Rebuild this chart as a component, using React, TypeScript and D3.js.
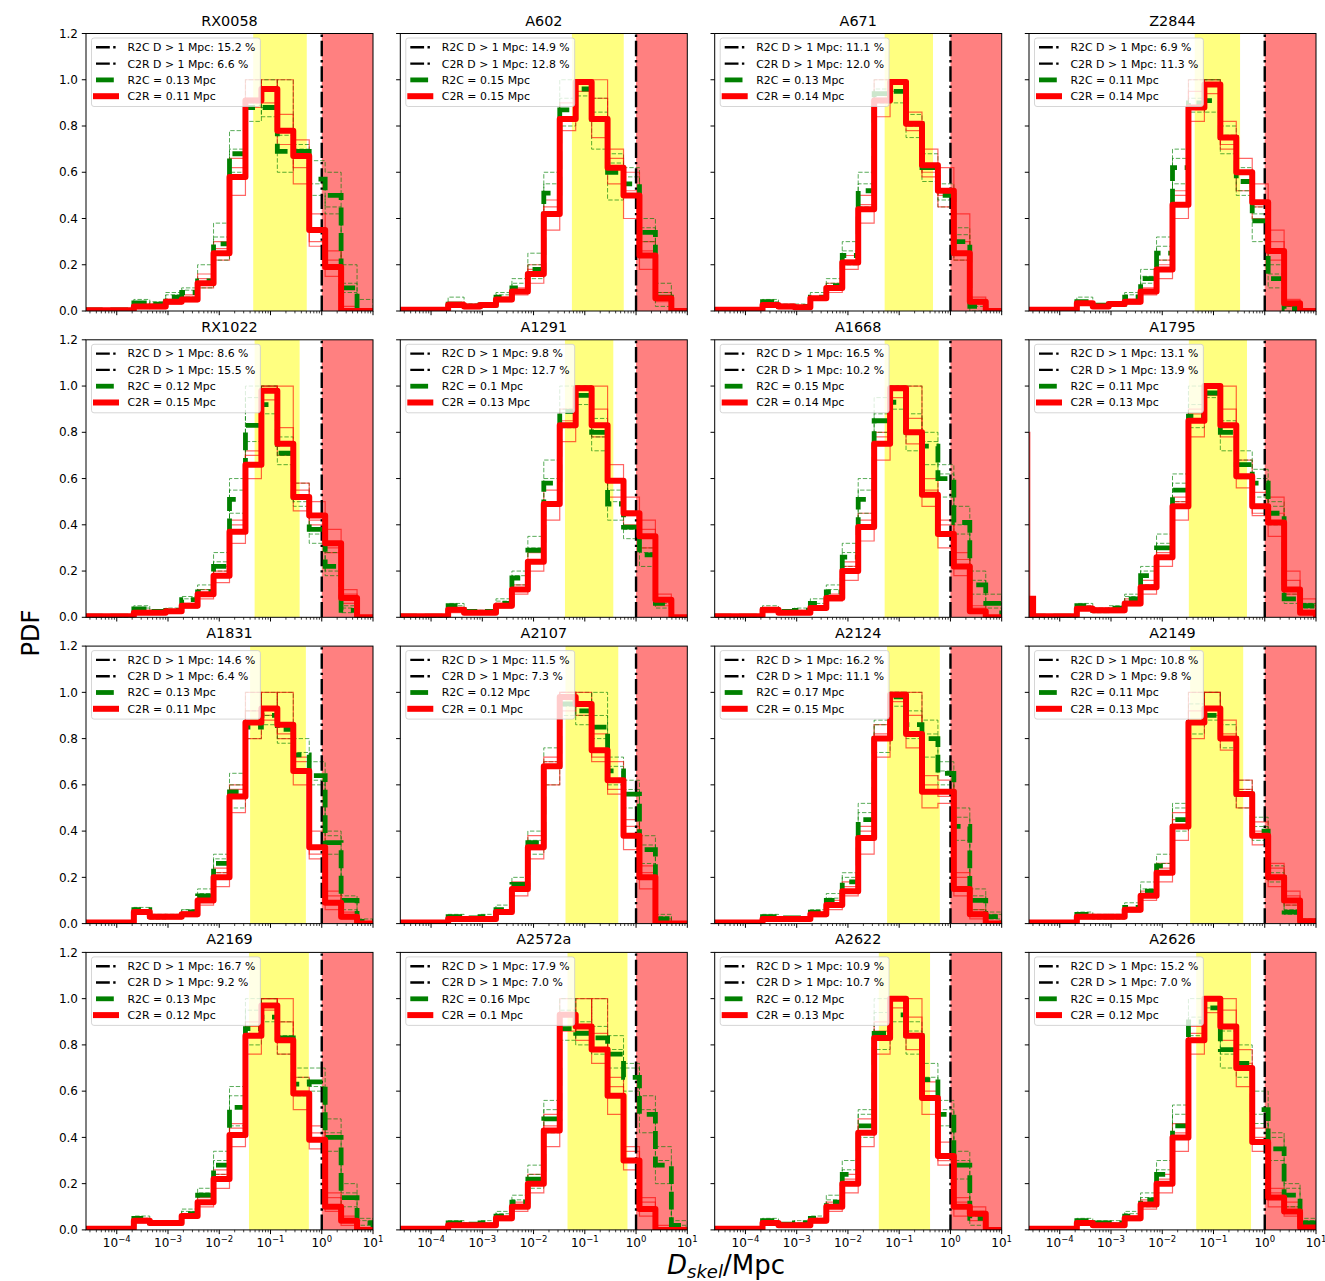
import React from "react";
import * as d3 from "d3";

// ---------- data ----------
const clusters = ["RX0058", "A602", "A671", "Z2844", "RX1022", "A1291", "A1668", "A1795", "A1831", "A2107", "A2124", "A2149", "A2169", "A2572a", "A2622", "A2626"];
const r2cFarPct = [15.2, 14.9, 11.1, 6.9, 8.6, 9.8, 16.5, 13.1, 14.6, 11.5, 16.2, 10.8, 16.7, 17.9, 10.9, 15.2];
const c2rFarPct = [6.6, 12.8, 12.0, 11.3, 15.5, 12.7, 10.2, 13.9, 6.4, 7.3, 11.1, 9.8, 9.2, 7.0, 10.7, 7.0];
const r2cMedian = [0.13, 0.15, 0.13, 0.11, 0.12, 0.1, 0.15, 0.11, 0.13, 0.12, 0.17, 0.11, 0.13, 0.16, 0.12, 0.15];
const c2rMedian = [0.11, 0.15, 0.14, 0.14, 0.15, 0.13, 0.14, 0.13, 0.11, 0.1, 0.15, 0.13, 0.12, 0.1, 0.13, 0.12];
const bandLo = [0.046, 0.056, 0.052, 0.043, 0.049, 0.041, 0.052, 0.033, 0.04, 0.042, 0.058, 0.035, 0.038, 0.046, 0.04, 0.046];
const bandHi = [0.51, 0.575, 0.457, 0.33, 0.37, 0.36, 0.59, 0.45, 0.49, 0.45, 0.62, 0.38, 0.56, 0.68, 0.4, 0.54];
const farLimit = 1;
const xLimits = [10 ** -4.6, 10];
const nBins = 18;
const yTicks = [0, 0.2, 0.4, 0.6, 0.8, 1.0, 1.2];
const xTickExps = [-4, -3, -2, -1, 0, 1];
const leftSpikeThin = [0, 0, 0, 0, 0, 0, 0, 0.8, 0, 0, 0, 0, 0, 0, 0, 0];
const leftSpikeMean = [0, 0, 0, 0, 0, 0, 0, 0.08, 0, 0, 0, 0, 0, 0, 0, 0];

// mean histograms (thick lines)
const c2rMean = [
  [0.003,0.003,0.003,0.02,0.02,0.04,0.05,0.12,0.25,0.58,0.91,0.96,0.78,0.67,0.35,0.19,0,0],
  [0.005,0.005,0.005,0.026,0.02,0.026,0.05,0.084,0.16,0.42,0.83,0.99,0.83,0.62,0.5,0.24,0.055,0],
  [0.005,0.005,0.005,0.026,0.02,0.016,0.055,0.1,0.21,0.44,0.91,0.99,0.81,0.63,0.52,0.25,0.04,0],
  [0.005,0.005,0.005,0.033,0.02,0.03,0.04,0.084,0.18,0.46,0.88,0.98,0.75,0.6,0.47,0.26,0.033,0],
  [0.005,0.005,0.005,0.02,0.02,0.026,0.05,0.1,0.18,0.37,0.66,0.98,0.75,0.52,0.44,0.32,0.084,0],
  [0.005,0.005,0.005,0.033,0.02,0.02,0.05,0.12,0.24,0.49,0.83,0.99,0.83,0.59,0.45,0.35,0.076,0],
  [0.005,0.005,0.005,0.033,0.02,0.02,0.04,0.084,0.2,0.39,0.75,0.99,0.8,0.53,0.36,0.22,0.026,0],
  [0.005,0.005,0.005,0.037,0.03,0.03,0.06,0.13,0.26,0.48,0.85,1.0,0.83,0.61,0.48,0.41,0.12,0.02],
  [0.005,0.005,0.005,0.05,0.03,0.03,0.04,0.1,0.2,0.55,0.87,0.93,0.86,0.66,0.33,0.09,0.03,0],
  [0.005,0.005,0.005,0.02,0.02,0.02,0.05,0.15,0.33,0.68,0.98,0.95,0.75,0.62,0.38,0.2,0,0],
  [0.005,0.005,0.005,0.02,0.02,0.02,0.04,0.08,0.14,0.37,0.8,0.99,0.82,0.57,0.57,0.15,0.04,0],
  [0.005,0.005,0.005,0.03,0.03,0.03,0.06,0.12,0.22,0.42,0.87,0.93,0.8,0.56,0.38,0.2,0.1,0.01],
  [0.005,0.005,0.005,0.04,0.03,0.03,0.06,0.12,0.22,0.41,0.84,0.97,0.82,0.59,0.39,0.1,0.04,0],
  [0.005,0.005,0.005,0.02,0.02,0.02,0.05,0.1,0.2,0.43,0.93,0.88,0.78,0.58,0.3,0.09,0,0],
  [0.005,0.005,0.005,0.03,0.02,0.02,0.04,0.1,0.2,0.42,0.83,1.0,0.84,0.57,0.32,0.1,0.07,0],
  [0.005,0.005,0.005,0.03,0.02,0.02,0.05,0.11,0.2,0.4,0.82,1.0,0.88,0.7,0.38,0.14,0.08,0.01],
];
const r2cMean = [
  [0.005,0.005,0.005,0.035,0.03,0.06,0.08,0.13,0.29,0.68,0.88,0.88,0.69,0.69,0.57,0.5,0.1,0],
  [0.005,0.005,0.005,0.03,0.02,0.026,0.06,0.1,0.18,0.51,0.87,0.96,0.83,0.6,0.55,0.34,0.06,0],
  [0.005,0.005,0.005,0.04,0.02,0.02,0.06,0.11,0.24,0.52,0.94,0.95,0.81,0.62,0.5,0.3,0.02,0],
  [0.005,0.005,0.005,0.04,0.025,0.03,0.06,0.14,0.25,0.62,0.9,0.91,0.75,0.56,0.39,0.14,0.01,0],
  [0.005,0.005,0.005,0.036,0.025,0.03,0.076,0.11,0.22,0.51,0.83,0.92,0.71,0.52,0.38,0.22,0.03,0],
  [0.005,0.005,0.005,0.05,0.025,0.025,0.06,0.17,0.29,0.58,0.89,0.96,0.8,0.49,0.39,0.27,0.06,0],
  [0.005,0.005,0.005,0.033,0.025,0.03,0.06,0.11,0.26,0.51,0.85,0.93,0.8,0.74,0.6,0.41,0.14,0.06],
  [0.005,0.005,0.005,0.05,0.03,0.04,0.08,0.18,0.3,0.55,0.87,0.97,0.8,0.66,0.58,0.45,0.08,0.05],
  [0.005,0.005,0.005,0.06,0.03,0.03,0.05,0.12,0.26,0.57,0.85,0.9,0.84,0.73,0.64,0.35,0.1,0.01],
  [0.005,0.005,0.005,0.03,0.025,0.03,0.06,0.17,0.35,0.68,0.95,0.92,0.85,0.66,0.56,0.32,0.02,0],
  [0.005,0.005,0.005,0.03,0.025,0.025,0.05,0.1,0.18,0.45,0.8,0.98,0.86,0.8,0.65,0.42,0.1,0.03],
  [0.005,0.005,0.005,0.04,0.03,0.03,0.07,0.14,0.25,0.45,0.87,0.9,0.8,0.56,0.4,0.2,0.05,0.01],
  [0.005,0.005,0.005,0.05,0.03,0.03,0.07,0.15,0.28,0.53,0.87,0.92,0.83,0.63,0.64,0.4,0.14,0.03],
  [0.005,0.005,0.005,0.03,0.025,0.03,0.06,0.12,0.22,0.48,0.87,0.85,0.83,0.76,0.66,0.5,0.28,0.02],
  [0.005,0.005,0.005,0.04,0.025,0.03,0.05,0.12,0.24,0.45,0.85,0.93,0.84,0.65,0.5,0.28,0.05,0],
  [0.005,0.005,0.005,0.04,0.03,0.03,0.06,0.13,0.24,0.45,0.9,0.96,0.78,0.72,0.52,0.35,0.15,0.03],
];

// individual realisations (thin lines), each normalised to its peak
const c2rThin = [
  [[0,0,0,0.03,0.02,0.05,0.06,0.16,0.3,0.62,0.88,1.0,0.72,0.62,0.28,0.22,0,0],
   [0,0,0,0.01,0.03,0.03,0.07,0.1,0.22,0.5,1.0,0.9,0.85,0.74,0.42,0.15,0.02,0],
   [0,0,0,0.02,0.01,0.04,0.04,0.14,0.27,0.66,0.92,0.96,1.0,0.55,0.3,0.26,0,0]],
  [[0,0,0,0.04,0.02,0.03,0.06,0.1,0.2,0.48,0.9,1.0,0.75,0.55,0.4,0.3,0.04,0],
   [0,0,0,0.02,0.03,0.02,0.04,0.07,0.12,0.35,0.78,1.0,0.92,0.7,0.6,0.18,0.08,0],
   [0,0,0,0.03,0.01,0.03,0.05,0.09,0.18,0.45,0.82,0.95,1.0,0.66,0.52,0.26,0.05,0]],
  [[0,0,0,0.03,0.02,0.02,0.06,0.12,0.24,0.5,1.0,0.95,0.78,0.58,0.45,0.3,0.03,0],
   [0,0,0,0.02,0.03,0.01,0.05,0.08,0.18,0.38,0.84,1.0,0.86,0.7,0.62,0.22,0.06,0],
   [0,0,0,0.03,0.01,0.02,0.06,0.11,0.22,0.46,0.92,1.0,0.8,0.6,0.5,0.42,0.04,0]],
  [[0,0,0,0.04,0.02,0.03,0.05,0.1,0.22,0.52,0.95,1.0,0.7,0.52,0.4,0.3,0.05,0],
   [0,0,0,0.03,0.03,0.02,0.03,0.07,0.14,0.4,0.82,1.0,0.82,0.66,0.55,0.22,0.02,0],
   [0,0,0,0.03,0.02,0.04,0.05,0.09,0.2,0.5,1.0,0.94,0.72,0.6,0.45,0.35,0.04,0]],
  [[0,0,0,0.02,0.03,0.03,0.06,0.12,0.22,0.42,0.72,1.0,0.7,0.46,0.4,0.28,0.1,0],
   [0,0,0,0.03,0.02,0.02,0.04,0.08,0.15,0.32,0.6,1.0,0.82,0.58,0.5,0.38,0.06,0],
   [0,0,0,0.02,0.02,0.03,0.05,0.1,0.2,0.4,0.7,0.94,1.0,0.55,0.42,0.3,0.12,0]],
  [[0,0,0,0.04,0.02,0.03,0.06,0.14,0.28,0.55,0.9,1.0,0.78,0.52,0.4,0.3,0.1,0],
   [0,0,0,0.03,0.03,0.02,0.04,0.1,0.2,0.42,0.76,1.0,0.9,0.66,0.52,0.42,0.05,0],
   [0,0,0,0.02,0.02,0.02,0.05,0.12,0.25,0.5,0.85,0.96,1.0,0.6,0.44,0.38,0.08,0]],
  [[0,0,0,0.04,0.02,0.03,0.05,0.1,0.24,0.45,0.8,1.0,0.75,0.48,0.3,0.28,0.04,0],
   [0,0,0,0.03,0.03,0.02,0.03,0.07,0.16,0.33,0.68,1.0,0.86,0.6,0.42,0.18,0.02,0],
   [0,0,0,0.02,0.02,0.02,0.04,0.09,0.22,0.42,0.78,0.95,1.0,0.55,0.4,0.25,0.05,0]],
  [[0,0,0,0.04,0.03,0.04,0.08,0.16,0.3,0.52,0.9,1.0,0.78,0.56,0.44,0.52,0.16,0.03],
   [0,0,0,0.03,0.04,0.02,0.05,0.1,0.22,0.42,0.78,1.0,0.9,0.68,0.54,0.35,0.2,0.05],
   [0,0,0,0.05,0.02,0.03,0.06,0.14,0.28,0.5,0.88,0.96,1.0,0.6,0.45,0.45,0.1,0.08]],
  [[0,0,0,0.06,0.04,0.03,0.05,0.12,0.24,0.6,0.92,1.0,0.8,0.6,0.3,0.12,0.04,0],
   [0,0,0,0.04,0.02,0.04,0.03,0.08,0.16,0.48,0.8,0.9,1.0,0.72,0.4,0.06,0.02,0],
   [0,0,0,0.05,0.03,0.02,0.05,0.11,0.22,0.58,1.0,0.88,0.82,0.7,0.28,0.14,0.05,0]],
  [[0,0,0,0.03,0.02,0.03,0.06,0.18,0.38,0.72,1.0,0.9,0.7,0.56,0.32,0.25,0.02,0],
   [0,0,0,0.02,0.03,0.01,0.04,0.12,0.28,0.6,0.92,1.0,0.82,0.7,0.45,0.15,0,0],
   [0,0,0,0.02,0.02,0.02,0.05,0.14,0.32,0.7,1.0,0.96,0.72,0.58,0.42,0.22,0.01,0]],
  [[0,0,0,0.03,0.02,0.03,0.05,0.1,0.18,0.42,0.86,1.0,0.76,0.5,0.52,0.2,0.06,0],
   [0,0,0,0.02,0.03,0.02,0.03,0.06,0.12,0.3,0.72,1.0,0.9,0.64,0.62,0.12,0.02,0],
   [0,0,0,0.02,0.02,0.02,0.04,0.09,0.16,0.4,0.82,0.96,1.0,0.6,0.55,0.22,0.05,0]],
  [[0,0,0,0.04,0.03,0.04,0.07,0.14,0.26,0.48,0.92,1.0,0.75,0.5,0.34,0.24,0.12,0],
   [0,0,0,0.02,0.04,0.02,0.05,0.1,0.18,0.36,0.8,1.0,0.88,0.62,0.44,0.16,0.08,0.02],
   [0,0,0,0.03,0.02,0.03,0.06,0.13,0.24,0.45,1.0,0.9,0.82,0.58,0.4,0.26,0.14,0]],
  [[0,0,0,0.05,0.03,0.04,0.07,0.14,0.26,0.46,0.9,1.0,0.76,0.52,0.35,0.14,0.06,0],
   [0,0,0,0.03,0.04,0.02,0.05,0.1,0.18,0.36,0.76,1.0,0.9,0.66,0.45,0.08,0.02,0],
   [0,0,0,0.04,0.02,0.03,0.06,0.12,0.24,0.44,0.88,0.95,1.0,0.6,0.42,0.16,0.05,0]],
  [[0,0,0,0.03,0.02,0.03,0.06,0.12,0.24,0.5,1.0,0.82,0.72,0.5,0.26,0.12,0,0],
   [0,0,0,0.02,0.03,0.02,0.04,0.08,0.16,0.36,0.86,1.0,0.85,0.66,0.36,0.06,0,0],
   [0,0,0,0.02,0.02,0.02,0.05,0.11,0.22,0.45,0.94,0.86,1.0,0.62,0.34,0.14,0.02,0]],
  [[0,0,0,0.04,0.02,0.03,0.05,0.12,0.24,0.48,0.9,1.0,0.78,0.5,0.28,0.14,0.1,0],
   [0,0,0,0.02,0.03,0.02,0.03,0.08,0.16,0.36,0.76,1.0,0.92,0.64,0.38,0.06,0.04,0],
   [0,0,0,0.03,0.02,0.02,0.04,0.1,0.22,0.45,0.86,0.96,1.0,0.6,0.3,0.12,0.08,0]],
  [[0,0,0,0.04,0.02,0.03,0.06,0.13,0.24,0.46,0.88,1.0,0.82,0.62,0.34,0.18,0.1,0],
   [0,0,0,0.02,0.03,0.02,0.04,0.09,0.16,0.34,0.76,1.0,0.95,0.78,0.44,0.1,0.06,0.02],
   [0,0,0,0.03,0.02,0.02,0.05,0.11,0.22,0.42,0.85,0.94,1.0,0.72,0.4,0.16,0.12,0]],
];
const r2cThin = [
  [[0,0,0,0.05,0.03,0.08,0.1,0.2,0.38,0.78,1.0,0.88,0.6,0.72,0.65,0.6,0.2,0],
   [0,0,0,0.03,0.04,0.05,0.06,0.12,0.32,0.6,0.82,1.0,0.76,0.66,0.5,0.45,0.08,0.05],
   [0,0,0,0.02,0.02,0.07,0.09,0.1,0.22,0.7,0.9,0.84,1.0,0.7,0.55,0.42,0.12,0]],
  [[0,0,0,0.06,0.03,0.03,0.08,0.14,0.25,0.6,0.92,1.0,0.7,0.48,0.5,0.4,0.12,0],
   [0,0,0,0.02,0.02,0.03,0.05,0.08,0.14,0.42,0.8,1.0,0.92,0.68,0.62,0.3,0.02,0],
   [0,0,0,0.03,0.03,0.02,0.07,0.12,0.2,0.55,1.0,0.93,0.86,0.64,0.58,0.36,0.08,0]],
  [[0,0,0,0.05,0.02,0.03,0.08,0.14,0.3,0.6,1.0,0.9,0.75,0.56,0.45,0.36,0.05,0],
   [0,0,0,0.03,0.03,0.02,0.05,0.09,0.2,0.45,0.9,1.0,0.85,0.68,0.55,0.22,0,0],
   [0,0,0,0.04,0.02,0.01,0.06,0.12,0.26,0.55,0.96,1.0,0.8,0.62,0.48,0.33,0.02,0]],
  [[0,0,0,0.06,0.03,0.04,0.08,0.18,0.32,0.7,1.0,0.86,0.68,0.5,0.3,0.1,0.02,0],
   [0,0,0,0.03,0.02,0.03,0.05,0.12,0.22,0.55,0.86,1.0,0.8,0.62,0.45,0.2,0,0],
   [0,0,0,0.04,0.03,0.02,0.07,0.15,0.28,0.66,0.92,1.0,0.76,0.52,0.42,0.16,0.02,0]],
  [[0,0,0,0.05,0.03,0.04,0.09,0.14,0.28,0.6,0.95,1.0,0.66,0.48,0.32,0.2,0.05,0],
   [0,0,0,0.03,0.02,0.03,0.06,0.1,0.2,0.45,0.76,1.0,0.78,0.58,0.44,0.28,0.02,0],
   [0,0,0,0.04,0.03,0.02,0.08,0.12,0.24,0.55,1.0,0.88,0.7,0.5,0.36,0.18,0.04,0]],
  [[0,0,0,0.06,0.03,0.03,0.08,0.2,0.35,0.68,1.0,0.92,0.72,0.42,0.34,0.3,0.08,0],
   [0,0,0,0.04,0.02,0.03,0.05,0.14,0.24,0.5,0.82,1.0,0.86,0.55,0.45,0.22,0.04,0],
   [0,0,0,0.05,0.03,0.02,0.07,0.18,0.3,0.6,0.9,1.0,0.78,0.5,0.38,0.28,0.06,0]],
  [[0,0,0,0.05,0.03,0.04,0.08,0.14,0.32,0.6,0.95,1.0,0.72,0.66,0.52,0.48,0.2,0.1],
   [0,0,0,0.03,0.02,0.03,0.05,0.09,0.22,0.45,0.8,1.0,0.88,0.8,0.66,0.36,0.1,0.04],
   [0,0,0,0.03,0.03,0.02,0.06,0.12,0.28,0.55,0.88,0.9,1.0,0.76,0.62,0.4,0.16,0.06]],
  [[0,0,0,0.06,0.04,0.05,0.1,0.22,0.36,0.62,0.92,1.0,0.72,0.6,0.52,0.5,0.12,0.06],
   [0,0,0,0.04,0.02,0.04,0.07,0.14,0.26,0.5,0.82,1.0,0.85,0.72,0.64,0.4,0.06,0.04],
   [0,0,0,0.05,0.03,0.03,0.09,0.2,0.32,0.58,1.0,0.95,0.8,0.68,0.6,0.48,0.1,0.06]],
  [[0,0,0,0.07,0.04,0.03,0.06,0.15,0.3,0.65,0.92,1.0,0.8,0.66,0.6,0.4,0.12,0],
   [0,0,0,0.05,0.02,0.04,0.04,0.1,0.22,0.5,0.8,0.86,1.0,0.8,0.7,0.3,0.06,0.02],
   [0,0,0,0.06,0.03,0.03,0.06,0.13,0.28,0.6,1.0,0.9,0.78,0.74,0.62,0.38,0.1,0]],
  [[0,0,0,0.04,0.03,0.04,0.08,0.2,0.4,0.76,1.0,0.86,0.8,0.6,0.5,0.38,0.04,0],
   [0,0,0,0.02,0.02,0.03,0.05,0.14,0.3,0.6,0.9,1.0,0.9,0.72,0.62,0.26,0,0],
   [0,0,0,0.03,0.03,0.02,0.06,0.16,0.36,0.7,0.94,0.9,1.0,0.68,0.58,0.34,0.03,0]],
  [[0,0,0,0.04,0.03,0.03,0.06,0.13,0.22,0.52,0.88,1.0,0.8,0.72,0.6,0.5,0.15,0.05],
   [0,0,0,0.03,0.02,0.02,0.04,0.08,0.14,0.38,0.74,1.0,0.92,0.88,0.7,0.36,0.06,0.02],
   [0,0,0,0.03,0.03,0.03,0.05,0.11,0.2,0.48,0.86,0.94,1.0,0.82,0.66,0.46,0.12,0.04]],
  [[0,0,0,0.05,0.04,0.04,0.09,0.18,0.3,0.52,0.95,1.0,0.76,0.5,0.36,0.25,0.08,0],
   [0,0,0,0.03,0.03,0.03,0.06,0.12,0.22,0.4,0.82,1.0,0.86,0.62,0.46,0.18,0.04,0.02],
   [0,0,0,0.04,0.02,0.02,0.07,0.15,0.26,0.5,1.0,0.88,0.8,0.58,0.42,0.22,0.06,0]],
  [[0,0,0,0.06,0.04,0.04,0.09,0.18,0.34,0.62,0.95,1.0,0.76,0.58,0.6,0.48,0.2,0.05],
   [0,0,0,0.04,0.03,0.03,0.06,0.12,0.24,0.45,0.8,1.0,0.9,0.7,0.7,0.34,0.1,0.02],
   [0,0,0,0.05,0.02,0.03,0.08,0.16,0.3,0.58,1.0,0.9,0.84,0.66,0.62,0.42,0.16,0.04]],
  [[0,0,0,0.04,0.03,0.04,0.08,0.15,0.28,0.56,0.95,0.9,1.0,0.7,0.6,0.58,0.36,0.04],
   [0,0,0,0.03,0.02,0.03,0.05,0.1,0.18,0.42,0.82,1.0,0.76,0.84,0.72,0.42,0.2,0],
   [0,0,0,0.03,0.03,0.02,0.07,0.13,0.24,0.52,1.0,0.8,0.88,0.78,0.7,0.52,0.3,0.02]],
  [[0,0,0,0.05,0.03,0.04,0.06,0.15,0.3,0.52,0.94,1.0,0.76,0.58,0.45,0.34,0.08,0],
   [0,0,0,0.03,0.02,0.03,0.04,0.1,0.2,0.4,0.78,1.0,0.9,0.72,0.56,0.22,0.02,0],
   [0,0,0,0.04,0.03,0.02,0.05,0.13,0.26,0.5,1.0,0.9,0.86,0.66,0.52,0.3,0.06,0]],
  [[0,0,0,0.05,0.04,0.04,0.08,0.16,0.3,0.54,1.0,0.96,0.7,0.66,0.46,0.4,0.2,0.05],
   [0,0,0,0.03,0.02,0.03,0.05,0.1,0.2,0.4,0.84,1.0,0.86,0.8,0.6,0.3,0.1,0.02],
   [0,0,0,0.04,0.03,0.02,0.07,0.14,0.26,0.5,0.92,1.0,0.76,0.7,0.5,0.42,0.18,0.04]],
];

// ---------- layout ----------
const FIG_W = 1325;
const FIG_H = 1281;
const PW = 287;
const PH = 277.5;
const lefts = [86, 400.3, 714.7, 1029];
const tops = [33.5, 339.8, 646.1, 952.4];
const FONT = "'DejaVu Sans', 'Liberation Sans', sans-serif";
const LEG_FS = 10.9;

const edges = d3.range(nBins + 1).map((k) => 10 ** (Math.log10(xLimits[0]) + (k * (Math.log10(xLimits[1]) - Math.log10(xLimits[0]))) / nBins));

let measureCtx: CanvasRenderingContext2D | null = null;
function textWidth(t: string, size: number) {
  try {
    if (!measureCtx) measureCtx = document.createElement("canvas").getContext("2d");
    if (measureCtx) {
      measureCtx.font = `${size}px 'DejaVu Sans'`;
      return measureCtx.measureText(t).width;
    }
  } catch (e) {}
  return t.length * size * 0.61;
}

function Panel({ idx }: { idx: number }) {
  const col = idx % 4;
  const row = Math.floor(idx / 4);
  const L = lefts[col];
  const T = tops[row];
  const x = d3.scaleLog().domain(xLimits).range([0, PW]);
  const y = d3.scaleLinear().domain([0, 1.2]).range([PH, 0]);
  const line = d3.line<[number, number]>().x((d) => x(d[0])).y((d) => y(d[1]));
  const step = (vals: number[]) => {
    const pts: [number, number][] = [[edges[0], 0]];
    vals.forEach((v, k) => {
      pts.push([edges[k], v]);
      pts.push([edges[k + 1], v]);
    });
    pts.push([edges[nBins], 0]);
    return line(pts) as string;
  };
  const spike = (v: number, right: number) =>
    line([[xLimits[0], 0], [xLimits[0], v], [right, v], [right, 0]]) as string;

  const clipId = `clip${idx}`;
  const minorTicks: number[] = [];
  for (let e = -5; e <= 0; e++) for (let m = 2; m <= 9; m++) {
    const v = m * 10 ** e;
    if (v >= xLimits[0] && v <= xLimits[1]) minorTicks.push(v);
  }

  const legendTexts = [
    `R2C D > ${farLimit} Mpc: ${r2cFarPct[idx].toFixed(1)} %`,
    `C2R D > ${farLimit} Mpc: ${c2rFarPct[idx].toFixed(1)} %`,
    `R2C = ${r2cMedian[idx]} Mpc`,
    `C2R = ${c2rMedian[idx]} Mpc`,
  ];
  const lgW = 36 + Math.max(...legendTexts.map((t) => textWidth(t, LEG_FS))) + 5;
  const lgX = 5.5;
  const lgY = 4.5;
  const rowY = (k: number) => lgY + 9.3 + 16.3 * k;

  return (
    <g transform={`translate(${L},${T})`}>
      <defs>
        <clipPath id={clipId}>
          <rect x={0} y={0} width={PW} height={PH} />
        </clipPath>
      </defs>
      <g clipPath={`url(#${clipId})`}>
        <rect x={x(bandLo[idx])} y={0} width={x(bandHi[idx]) - x(bandLo[idx])} height={PH} fill="#ffff80" />
        <rect x={x(farLimit)} y={0} width={x(xLimits[1]) - x(farLimit)} height={PH} fill="#ff8080" />
        {r2cThin[idx].map((vals, k) => (
          <g key={k}>
            <path d={step(vals)} fill="none" stroke="green" strokeOpacity={0.65} strokeWidth={1} strokeDasharray="4.4,1.9" />
            <path d={step(c2rThin[idx][k])} fill="none" stroke="red" strokeOpacity={0.6} strokeWidth={1.2} />
          </g>
        ))}
        {leftSpikeThin[idx] > 0 && (
          <path d={spike(leftSpikeThin[idx], 10 ** -4.585)} fill="none" stroke="red" strokeOpacity={0.7} strokeWidth={1.2} />
        )}
        <line x1={x(farLimit)} x2={x(farLimit)} y1={PH} y2={0} stroke="black" strokeWidth={2.4} strokeDasharray="15.4,3.84,2.4,3.84" />
        <path d={step(r2cMean[idx])} fill="none" stroke="green" strokeWidth={4.8} strokeDasharray="17.8,7.7" />
        {leftSpikeMean[idx] > 0 && (
          <path d={spike(leftSpikeMean[idx], 10 ** -4.52)} fill="none" stroke="red" strokeWidth={6} />
        )}
        <path d={step(c2rMean[idx])} fill="none" stroke="red" strokeWidth={6} strokeLinejoin="round" />
      </g>
      {/* legend */}
      <g fontFamily={FONT} fontSize={LEG_FS}>
        <rect x={lgX} y={lgY} width={lgW} height={68.5} rx={2.5} fill="white" fillOpacity={0.8} stroke="#cccccc" strokeOpacity={0.8} strokeWidth={1} />
        {[0, 1].map((k) => (
          <line key={k} x1={lgX + 4.5} x2={lgX + 24.5} y1={rowY(k)} y2={rowY(k)} stroke="black" strokeWidth={2.4} strokeDasharray="13.8,3.4,2.4,3.4" />
        ))}
        <line x1={lgX + 4.5} x2={lgX + 24.5} y1={rowY(2)} y2={rowY(2)} stroke="green" strokeWidth={4.8} strokeDasharray="17.8,7.7" />
        <line x1={lgX + 4.5} x2={lgX + 24.5} y1={rowY(3)} y2={rowY(3)} stroke="red" strokeWidth={6} strokeLinecap="square" />
        {legendTexts.map((t, k) => (
          <text key={k} x={lgX + 36} y={rowY(k) + 3.9} fill="black">{t}</text>
        ))}
      </g>
      {/* spines */}
      <rect x={0} y={0} width={PW} height={PH} fill="none" stroke="black" strokeWidth={1} />
      {/* x ticks */}
      {minorTicks.map((v, k) => (
        <line key={k} x1={x(v)} x2={x(v)} y1={PH} y2={PH + 2.4} stroke="black" strokeWidth={0.75} />
      ))}
      {xTickExps.map((e) => (
        <line key={e} x1={x(10 ** e)} x2={x(10 ** e)} y1={PH} y2={PH + 4.2} stroke="black" strokeWidth={1} />
      ))}
      {row === 3 &&
        xTickExps.map((e) => (
          <text key={e} x={x(10 ** e)} y={PH + 17.5} textAnchor="middle" fontFamily={FONT} fontSize={12} fill="black">
            <tspan>10</tspan>
            <tspan dy={-5} fontSize={8.5}>{e < 0 ? `\u2212${-e}` : `${e}`}</tspan>
          </text>
        ))}
      {/* y ticks */}
      {yTicks.map((v) => (
        <line key={v} x1={-4.2} x2={0} y1={y(v)} y2={y(v)} stroke="black" strokeWidth={1} />
      ))}
      {col === 0 &&
        yTicks.map((v) => (
          <text key={v} x={-8} y={y(v)} dy="0.35em" textAnchor="end" fontFamily={FONT} fontSize={12} fill="black">
            {v.toFixed(1)}
          </text>
        ))}
      <text x={PW / 2} y={-8} textAnchor="middle" fontFamily={FONT} fontSize={14.4} fill="black">
        {clusters[idx]}
      </text>
    </g>
  );
}

export default function App() {
  return (
    <svg width={FIG_W} height={FIG_H} style={{ position: "absolute", left: 0, top: 0, background: "white" }} xmlns="http://www.w3.org/2000/svg">
      <rect width={FIG_W} height={FIG_H} fill="white" />
      {clusters.map((_, i) => (
        <Panel key={i} idx={i} />
      ))}
      <text x={726} y={1274} textAnchor="middle" fontFamily={FONT} fontSize={26} fill="black">
        <tspan fontStyle="italic">D</tspan>
        <tspan fontStyle="italic" fontSize={18} dy={4}>skel</tspan>
        <tspan dy={-4}>/Mpc</tspan>
      </text>
      <text transform="translate(39,633) rotate(-90)" textAnchor="middle" fontFamily={FONT} fontSize={24} fill="black">
        PDF
      </text>
    </svg>
  );
}
